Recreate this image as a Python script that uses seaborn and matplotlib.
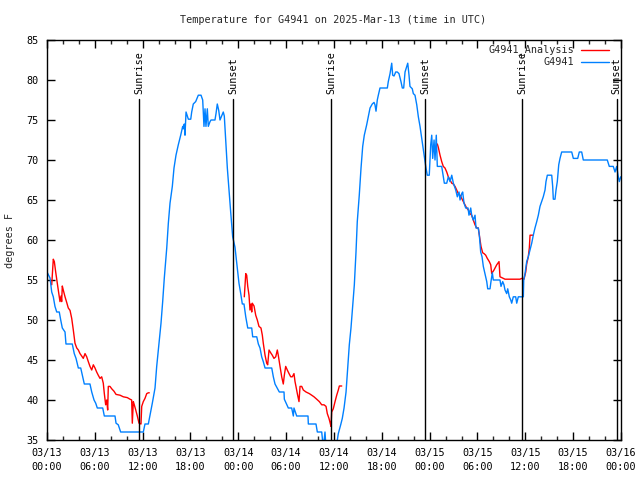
import numpy as np
import pandas as pd
import matplotlib
matplotlib.use("Agg")
import matplotlib.pyplot as plt
import matplotlib.dates as mdates
import matplotlib.transforms as mtransforms
import seaborn as sns

# ---- data (hours since 2025-03-13 00:00 UTC, degrees F) ----
obs_hours = [0.0, 0.38, 0.59, 0.79, 1.0, 1.22, 1.54, 1.72, 1.92, 2.26, 2.38, 3.17, 3.42, 3.64, 3.93, 4.23,
             4.43, 4.68, 5.39, 5.61, 5.90, 6.11, 6.31, 6.99, 7.19, 8.53, 8.66, 8.94, 9.24, 12.08, 12.29,
             12.71, 12.92, 13.21, 13.55, 13.76, 14.05, 14.30, 14.51, 14.71, 15.02, 15.22, 15.43, 15.72,
             15.93, 16.18, 16.47, 16.77, 17.02, 17.10, 17.22, 17.31, 17.44, 17.60, 17.73, 18.03, 18.15,
             18.35, 18.65, 18.98, 19.32, 19.53, 19.69, 19.82, 19.94, 20.11, 20.23, 20.45, 20.57, 21.07,
             21.20, 21.36, 21.54, 21.70, 21.91, 22.11, 22.24, 22.42, 22.62, 22.83, 23.04, 23.29, 23.58,
             23.80, 24.08, 24.30, 24.50, 24.71, 24.93, 25.18, 25.68, 25.80, 26.31, 26.51, 26.72, 26.93,
             27.13, 27.35, 28.19, 28.39, 28.60, 29.14, 29.73, 29.77, 30.27, 30.69, 30.90, 30.98, 31.32,
             32.74, 32.78, 33.74, 33.91, 34.46, 34.66, 34.87, 35.0, 36.34, 36.54, 36.84, 37.04, 37.26,
             37.51, 37.72, 37.92, 38.13, 38.35, 38.55, 38.76, 38.92, 39.17, 39.39, 39.60, 39.80, 40.10,
             40.30, 40.52, 40.80, 41.02, 41.14, 41.27, 41.43, 41.56, 41.77, 42.69, 42.81, 43.03, 43.24,
             43.36, 43.53, 43.74, 43.94, 44.15, 44.40, 44.57, 44.74, 44.91, 45.12, 45.25, 45.41, 45.53,
             45.82, 45.95, 46.16, 46.38, 46.58, 46.79, 47.00, 47.13, 47.29, 47.42, 47.54, 47.70, 47.95,
             48.13, 48.26, 48.38, 48.55, 48.67, 48.83, 48.96, 49.51, 49.64, 49.84, 50.14, 50.34, 50.55,
             50.77, 50.97, 51.27, 51.47, 51.68, 51.81, 52.02, 52.14, 52.31, 52.52, 52.81, 52.93, 53.15,
             53.27, 53.47, 53.69, 53.81, 54.10, 54.23, 54.40, 54.57, 54.73, 54.94, 55.16, 55.28, 55.57,
             55.69, 55.86, 55.98, 56.82, 56.95, 57.16, 57.32, 57.45, 57.66, 57.79, 57.99, 58.17, 58.29,
             58.49, 58.79, 58.92, 59.12, 59.75, 59.80, 59.96, 60.17, 60.37, 60.59, 60.80, 61.00, 61.21,
             61.43, 61.63, 61.84, 62.05, 62.25, 62.47, 62.59, 62.76, 63.31, 63.43, 63.51, 63.72, 63.85,
             64.01, 64.19, 64.35, 64.56, 65.82, 66.02, 66.57, 66.77, 67.07, 67.27, 70.28, 70.53, 71.03,
             71.25, 71.46, 71.66, 71.79, 71.96]
obs_temp = [56.0, 55.25, 53.5, 52.9, 51.7, 51.0, 51.0, 50.0, 49.0, 48.5, 47.0, 47.0, 45.8, 45.2, 44.0, 44.0,
            43.1, 42.0, 42.0, 41.0, 40.0, 39.6, 39.0, 39.0, 38.0, 38.0, 37.1, 36.9, 36.0, 36.0, 37.0,
            37.0, 38.1, 39.6, 41.5, 44.2, 47.1, 49.6, 52.3, 55.2, 59.0, 62.1, 64.6, 66.7,
            69.0, 70.6, 71.9, 73.1, 74.2, 73.9, 74.5, 73.1, 76.0, 75.5, 75.1, 75.1, 76.0,
            77.0, 77.3, 78.1, 78.1, 77.5, 74.2, 76.4, 74.2, 76.4, 74.2, 74.8, 75.0, 75.0,
            75.8, 77.0, 76.2, 75.0, 75.5, 76.0, 75.5, 72.5, 69.0, 66.2, 63.5, 60.4, 59.1,
            57.1, 54.6, 53.3, 52.0, 52.0, 50.4, 49.0, 49.0, 47.9, 47.9, 47.0, 46.5, 45.4,
            44.8, 44.0, 44.0, 42.9, 42.0, 41.0, 41.0, 40.1, 39.0, 39.0, 38.0, 39.0, 38.0,
            38.0, 37.0, 37.0, 36.0, 36.0, 34.0, 36.0, 34.0, 34.5, 35.8, 36.9, 37.7, 39.0,
            41.0, 44.0, 46.9, 49.0, 51.9, 54.4, 58.5, 62.3, 65.6, 69.0, 71.7, 73.1, 74.4,
            75.4, 76.5, 77.0, 77.2, 76.9, 76.1, 77.5, 78.1, 79.0, 79.0, 79.8, 80.8, 82.1,
            80.6, 80.5, 81.0, 81.0, 80.8, 79.8, 79.0, 79.0, 81.0, 81.7, 82.1, 80.6, 79.2,
            78.9, 78.3, 78.1, 76.9, 75.4, 74.2, 72.7, 71.7, 70.6, 69.8, 69.0, 68.1, 68.1,
            71.9, 73.1, 70.2, 72.5, 70.0, 73.1, 69.2, 69.2, 68.4, 67.1, 67.1, 67.9, 67.3,
            68.1, 67.1, 66.25, 65.4, 66.0, 65.0, 65.8, 66.0, 64.6, 64.0, 64.0, 63.1, 64.0,
            63.1, 62.5, 63.1, 61.5, 61.5, 60.6, 58.5, 57.9, 56.7, 55.8, 54.8, 53.9, 53.9,
            54.8, 55.9, 55.0, 55.0, 54.2, 54.8, 54.4, 53.75, 53.3, 53.9, 52.9, 52.5, 52.1,
            52.9, 52.9, 52.1, 52.9, 52.9, 55.0, 55.8, 57.3, 57.9, 58.75, 59.6, 60.6, 61.5,
            62.3, 63.1, 64.2, 64.8, 65.4, 66.25, 67.3, 68.1, 68.1, 66.7, 65.1, 65.1, 66.25,
            67.3, 69.4, 70.2, 71.0, 71.0, 70.2, 70.2, 71.0, 71.0, 70.0, 70.0, 69.2, 69.2,
            68.5, 69.2, 67.9, 67.3, 67.9]

ana_hours_1 = [0.59, 0.79, 0.92, 1.09, 1.29, 1.51, 1.63, 1.76, 1.84, 1.92, 2.04, 2.26, 2.47, 2.67, 2.89,
               3.10, 3.30, 3.51, 3.73, 3.93, 4.14, 4.35, 4.55, 4.77, 4.98, 5.18, 5.39, 5.61, 5.81, 6.02,
               6.23, 6.43, 6.65, 6.86, 7.06, 7.19, 7.36, 7.49, 7.61, 7.69, 7.90, 8.12, 8.40, 8.66, 9.16,
               9.57, 10.07, 10.41, 10.62, 10.70, 10.83, 10.95, 11.13, 11.33, 11.54, 11.79, 11.88, 12.08,
               12.29, 12.51, 12.71, 12.83]
ana_temp_1 = [54.4, 57.6, 57.3, 56.0, 54.6, 53.1, 52.3, 53.0, 52.3, 54.25, 53.75, 52.9, 52.2, 51.5, 51.2,
              50.2, 48.75, 47.1, 46.5, 46.25, 45.8, 45.5, 45.2, 45.8, 45.4, 44.8, 44.2, 43.75, 44.4, 44.0,
              43.5, 43.1, 42.7, 42.9, 42.1, 40.8, 39.4, 40.0, 38.75, 41.7, 41.7, 41.4, 41.1, 40.7, 40.6,
              40.4, 40.3, 40.1, 40.0, 37.1, 39.8, 39.4, 38.75, 38.0, 37.1, 37.0, 39.2, 39.8,
              40.2, 40.8, 40.9, 40.9]
ana_hours_2 = [24.75, 24.93, 25.05, 25.18, 25.34, 25.46, 25.59, 25.68, 25.75, 25.97, 26.18, 26.38, 26.59,
               26.84, 27.01, 27.13, 27.35, 27.56, 27.68, 27.85, 28.06, 28.26, 28.47, 28.69, 28.89, 29.01,
               29.23, 29.44, 29.64, 29.77, 29.94, 30.14, 30.36, 30.57, 30.77, 30.98, 31.11, 31.23, 31.40,
               31.61, 31.74, 31.95, 32.15, 32.49, 32.90, 33.20, 33.49, 33.83, 34.16, 34.46, 34.75, 35.00,
               35.16, 35.37, 35.50, 35.62, 35.71, 35.91, 36.13, 36.34, 36.54, 36.67, 36.97]
ana_temp_2 = [52.9, 55.8, 55.6, 54.2, 53.1, 51.25, 52.0, 51.0, 52.1, 51.75, 50.6, 50.0, 49.2,
              49.0, 48.1, 47.1, 45.6, 44.6, 44.4, 46.25, 45.9, 45.6, 45.2, 45.4, 46.25, 45.6,
              44.2, 42.9, 42.0, 43.1, 44.2, 43.75, 43.3, 42.9, 42.9, 43.3, 42.3, 41.7, 40.8,
              39.8, 41.7, 41.7, 41.25, 41.0, 40.8, 40.6, 40.4, 40.1, 39.8, 39.4, 39.4, 39.2,
              38.3, 37.7, 37.2, 36.7, 38.5, 38.9, 39.8, 40.6, 41.25, 41.75, 41.75]
ana_hours_3 = [48.96, 49.08, 49.30, 49.51, 49.71, 49.92, 50.14, 50.34, 50.55, 50.77, 50.97, 51.18, 51.39,
               51.59, 51.81, 52.02, 52.22, 52.43, 52.64, 52.85, 53.06, 53.27, 53.47, 53.69, 53.90, 54.10,
               54.23, 54.44, 54.65, 54.82, 55.03, 55.23, 55.48, 55.66, 55.78, 56.07, 56.41, 56.70, 56.82,
               57.04, 57.45, 59.33, 59.55, 59.83, 60.05, 60.17, 60.37, 60.50, 60.59, 61.00]
ana_temp_3 = [72.0, 71.6, 70.6, 69.8, 69.2, 69.0, 68.5, 67.9, 67.5, 67.1, 67.0, 66.7, 66.25,
              65.8, 65.6, 65.2, 64.8, 64.4, 64.0, 63.75, 63.3, 63.1, 62.5, 61.9, 61.5, 61.5,
              60.6, 59.2, 58.4, 58.3, 58.1, 57.7, 57.3, 56.9, 55.8, 56.25, 56.9, 57.3, 55.4,
              55.3, 55.1, 55.1, 55.2, 55.1, 56.0, 57.0, 57.9, 59.0, 60.6, 60.6]

sun_hours = [11.58, 23.37, 35.65, 47.46, 59.63, 71.46]
sun_labels = ["Sunrise", "Sunset", "Sunrise", "Sunset", "Sunrise", "Sunset"]

title = "Temperature for G4941 on 2025-Mar-13 (time in UTC)"
ylabel = "degrees F"
obs_name = "G4941"
ana_name = "G4941_Analysis"
red = "#ff0000"
blue = "#0080ff"

# ---- build frames ----
t0 = pd.Timestamp("2025-03-13 00:00")
def to_time(h):
    return t0 + pd.to_timedelta(np.asarray(h), unit="h")

obs_df = pd.DataFrame({"time": to_time(obs_hours), "temp": obs_temp})
ana_dfs = [pd.DataFrame({"time": to_time(h), "temp": v})
           for h, v in [(ana_hours_1, ana_temp_1), (ana_hours_2, ana_temp_2), (ana_hours_3, ana_temp_3)]]

sns.set_style("ticks")
plt.rcParams["font.family"] = ["DejaVu Sans Mono"]
plt.rcParams["font.size"] = 7.3

fig = plt.figure(figsize=(6.4, 4.8), dpi=100)
ax = fig.add_axes([47 / 640, 40 / 480, 574 / 640, 400 / 480])

for d in ana_dfs:
    sns.lineplot(data=d, x="time", y="temp", ax=ax, color=red, linewidth=1.0,
                 estimator=None, legend=False)
sns.lineplot(data=obs_df, x="time", y="temp", ax=ax, color=blue, linewidth=1.0,
             estimator=None, legend=False)

trans = mtransforms.blended_transform_factory(ax.transData, ax.transAxes)
for h, lab in zip(sun_hours, sun_labels):
    tt = mdates.date2num(to_time([h])[0])
    ax.axvline(tt, ymin=0, ymax=0.853, color="black", linewidth=1.0)
    ax.text(tt, 0.864, lab, transform=trans, rotation=90, ha="center", va="bottom",
            color="black")

ax.set_xlim(to_time([0])[0], to_time([72])[0])
ax.set_ylim(35, 85)
ax.set_yticks(np.arange(35, 86, 5))
ax.xaxis.set_major_locator(mdates.HourLocator(byhour=[0, 6, 12, 18]))
ax.xaxis.set_minor_locator(mdates.HourLocator(byhour=range(0, 24, 2)))
ax.xaxis.set_major_formatter(mdates.DateFormatter("%m/%d\n%H:%M"))
ax.tick_params(which="major", direction="in", length=6, width=1, top=True, right=True,
               pad=6, colors="black")
ax.tick_params(which="minor", direction="in", length=3, width=1, top=True, right=False)
ax.tick_params(axis="y", which="minor", left=False, right=False)
for lab in ax.get_xticklabels():
    lab.set_linespacing(1.45)
for s in ax.spines.values():
    s.set_visible(True)
    s.set_linewidth(1.0)
    s.set_color("black")
ax.set_xlabel("")
ax.set_ylabel("")

fig.text(333 / 640, 1 - 20 / 480, title, ha="center", va="center")
fig.text(10 / 640, 0.5, ylabel, rotation=90, ha="center", va="center")

# legend drawn manually (gnuplot style: text right-aligned, sample to the right)
for yy, name, col in [(0.975, ana_name, red), (0.944, obs_name, blue)]:
    ax.text(0.918, yy, name, transform=ax.transAxes, ha="right", va="center")
    ax.plot([0.930, 0.979], [yy, yy], transform=ax.transAxes, color=col, linewidth=1.0)

fig.savefig("out.png", dpi=100)
